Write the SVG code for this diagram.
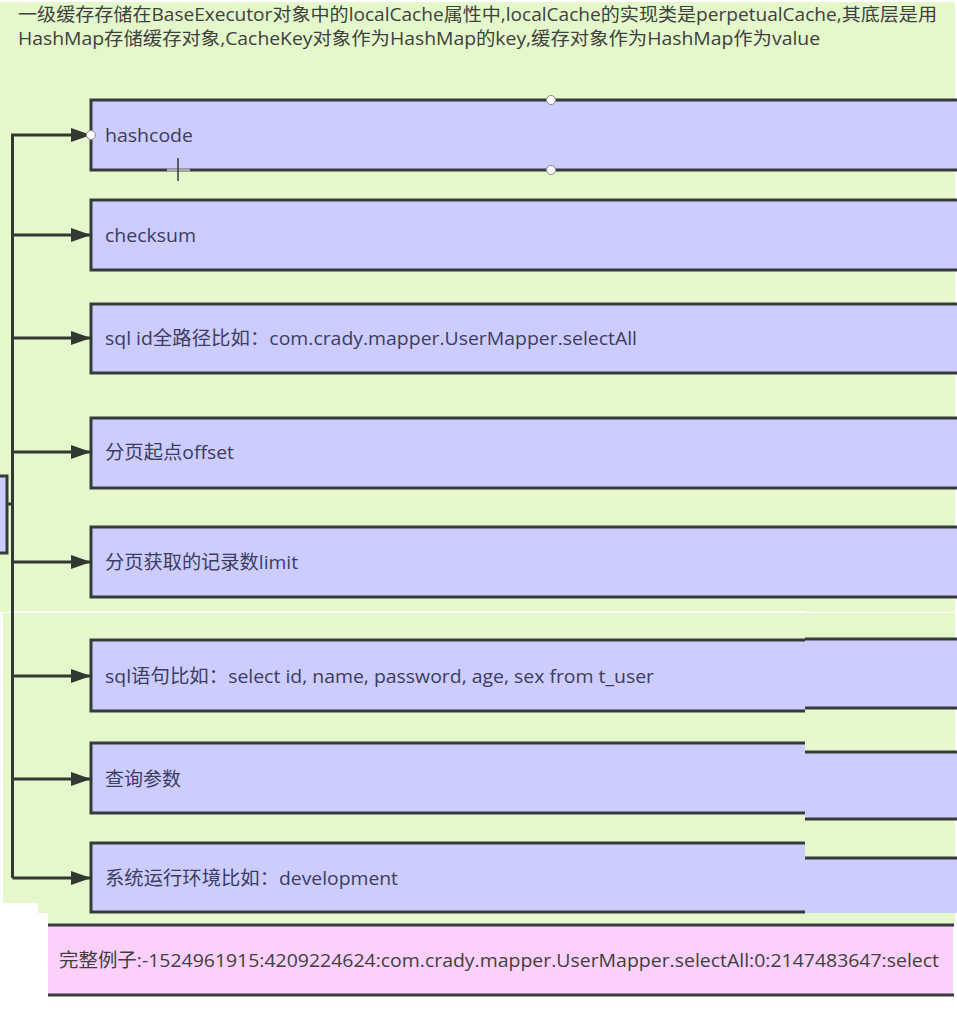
<svg xmlns="http://www.w3.org/2000/svg" width="957" height="1010" viewBox="0 0 957 1010">
<defs>
<style>
.bg{fill:#e4f8cb}
.box{fill:#ccccff}
.edge{stroke:#363a3a;stroke-width:3;fill:none}
.lbl{font-family:"Open Sans","Noto Sans CJK SC",sans-serif;font-size:19px;fill:#3d3d5e}
.title{font-family:"Open Sans","Noto Sans CJK SC",sans-serif;font-size:18px;fill:#404040}
.conn{stroke:#333833;stroke-width:3;fill:none}
.handle{fill:#ffffff;stroke:#8a8a8a;stroke-width:1}
</style>
<marker id="arr" viewBox="0 0 20 14" refX="20" refY="7" markerWidth="20" markerHeight="14" markerUnits="userSpaceOnUse" orient="auto">
<path d="M0,0 L20,7 L0,14 Z" fill="#333833"/>
</marker>
</defs>
<rect width="957" height="1010" fill="#ffffff"/>
<g id="background">
<rect class="bg" x="0" y="2" width="955" height="610"/>
<rect class="bg" x="3" y="613" width="952" height="290"/>
<rect class="bg" x="38" y="903" width="917" height="10"/>
<rect class="bg" x="48" y="913" width="907" height="12"/>
</g>
<g id="title">
<text class="title" x="18" y="21" textLength="919" lengthAdjust="spacingAndGlyphs">一级缓存存储在BaseExecutor对象中的localCache属性中,localCache的实现类是perpetualCache,其底层是用</text>
<text class="title" x="18" y="45" textLength="802" lengthAdjust="spacingAndGlyphs">HashMap存储缓存对象,CacheKey对象作为HashMap的key,缓存对象作为HashMap作为value</text>
</g>
<g id="side-node">
<rect class="box" x="-3" y="476" width="10" height="77"/>
<path class="edge" d="M-3,476 H7 V553 H-3"/>
</g>
<g id="node-hashcode">
<rect class="box" x="91" y="100" width="866" height="70"/>
<path class="edge" d="M957,100 H91 V170 H957"/>
<text class="lbl" x="105" y="142" textLength="88" lengthAdjust="spacingAndGlyphs">hashcode</text>
</g>
<g id="node-checksum">
<rect class="box" x="91" y="200" width="866" height="70"/>
<path class="edge" d="M957,200 H91 V270 H957"/>
<text class="lbl" x="105" y="242" textLength="91" lengthAdjust="spacingAndGlyphs">checksum</text>
</g>
<g id="node-sqlid">
<rect class="box" x="91" y="304" width="866" height="69"/>
<path class="edge" d="M957,304 H91 V373 H957"/>
<text class="lbl" x="105" y="345" textLength="532" lengthAdjust="spacingAndGlyphs">sql id全路径比如：com.crady.mapper.UserMapper.selectAll</text>
</g>
<g id="node-offset">
<rect class="box" x="91" y="418" width="866" height="70"/>
<path class="edge" d="M957,418 H91 V488 H957"/>
<text class="lbl" x="105" y="459" textLength="129" lengthAdjust="spacingAndGlyphs">分页起点offset</text>
</g>
<g id="node-limit">
<rect class="box" x="91" y="527" width="866" height="70"/>
<path class="edge" d="M957,527 H91 V597 H957"/>
<text class="lbl" x="105" y="569" textLength="193" lengthAdjust="spacingAndGlyphs">分页获取的记录数limit</text>
</g>
<rect x="8" y="611" width="797" height="2" fill="#ffffff"/>
<g id="node-sql">
<rect class="box" x="91" y="640" width="714" height="71"/>
<rect class="box" x="805" y="639" width="152" height="69"/>
<path class="edge" d="M805,640 H91 V711 H805"/>
<path class="edge" d="M805,639 H957 M805,708 H957"/>
<text class="lbl" x="105" y="683" textLength="549" lengthAdjust="spacingAndGlyphs">sql语句比如：select id, name, password, age, sex from t_user</text>
</g>
<g id="node-params">
<rect class="box" x="91" y="743" width="714" height="70"/>
<rect class="box" x="805" y="752" width="152" height="67"/>
<path class="edge" d="M805,743 H91 V813 H805"/>
<path class="edge" d="M805,752 H957 M805,819 H957"/>
<text class="lbl" x="105" y="786" textLength="76" lengthAdjust="spacingAndGlyphs">查询参数</text>
</g>
<g id="node-env">
<rect class="box" x="91" y="843" width="714" height="69"/>
<rect class="box" x="805" y="858" width="152" height="55"/>
<path class="edge" d="M805,843 H91 V912 H805"/>
<path class="edge" d="M805,858 H957"/>
<text class="lbl" x="105" y="885" textLength="293" lengthAdjust="spacingAndGlyphs">系统运行环境比如：development</text>
</g>
<g id="node-example">
<rect x="48" y="925" width="905" height="70" fill="#fdd0fc"/>
<path class="edge" d="M48,925 H954 M48,995 H954"/>
<text class="title" x="59" y="967" textLength="880" lengthAdjust="spacingAndGlyphs" style="font-size:19px">完整例子:-1524961915:4209224624:com.crady.mapper.UserMapper.selectAll:0:2147483647:select</text>
</g>
<g id="connectors">
<path class="conn" d="M12.5,878 V135 H91" marker-end="url(#arr)"/>
<path class="conn" d="M12.5,235 H91" marker-end="url(#arr)"/>
<path class="conn" d="M12.5,338 H91" marker-end="url(#arr)"/>
<path class="conn" d="M12.5,452 H91" marker-end="url(#arr)"/>
<path class="conn" d="M7,504 H12.5"/>
<path class="conn" d="M12.5,562 H91" marker-end="url(#arr)"/>
<path class="conn" d="M12.5,676 H91" marker-end="url(#arr)"/>
<path class="conn" d="M12.5,779 H91" marker-end="url(#arr)"/>
<path class="conn" d="M12.5,878 H91" marker-end="url(#arr)"/>
</g>
<g id="selection">
<circle class="handle" cx="91" cy="135" r="4.5"/>
<circle class="handle" cx="551" cy="100" r="4.5"/>
<circle class="handle" cx="551" cy="170" r="4.5"/>
<path d="M167,170 H190" stroke="#a8a8b0" stroke-width="3"/>
<path d="M178,158 V181" stroke="#333833" stroke-width="1.5"/>
</g>
</svg>
